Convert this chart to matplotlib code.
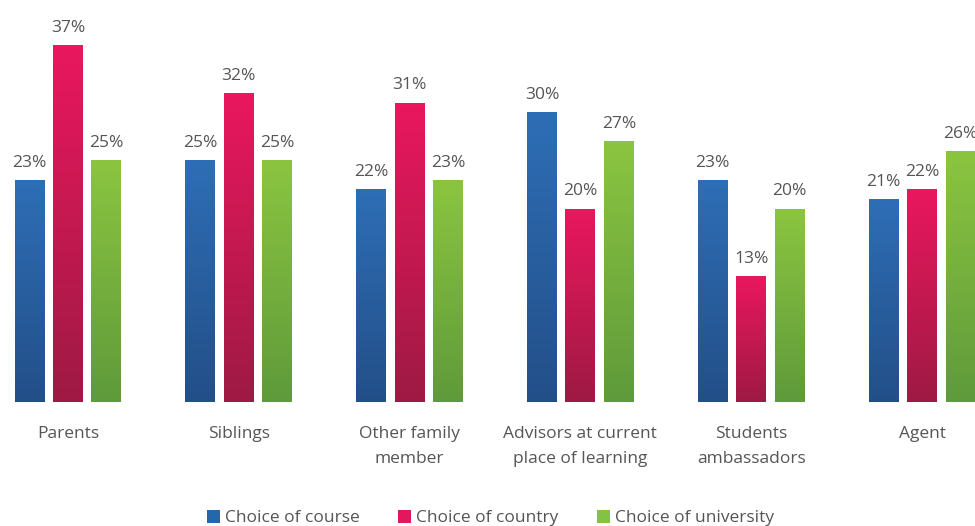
import numpy as np
import matplotlib.pyplot as plt
from matplotlib.colors import LinearSegmentedColormap
from matplotlib.patches import Patch

plt.rcParams['font.family'] = ['Open Sans', 'DejaVu Sans']

categories = ['Parents', 'Siblings', 'Other family\nmember', 'Advisors at current\nplace of learning',
              'Students\nambassadors', 'Agent']
series_names = ['Choice of course', 'Choice of country', 'Choice of university']
course = [23, 25, 22, 30, 23, 21]
country = [37, 32, 31, 20, 13, 22]
university = [25, 25, 23, 27, 20, 26]

# top colour, bottom colour for each series
grads = [('#2e6eb6', '#234f88'), ('#ea175e', '#9e1a44'), ('#8bc540', '#5f9a3b')]
legend_cols = ['#2468ab', '#e4175d', '#85c142']
text_col = '#555555'

fig = plt.figure(figsize=(9.75, 5.26), dpi=100)
ax = fig.add_axes([0, 1 - 402 / 526, 1, 402 / 526])

x = np.arange(len(categories))
width = 0.175
offset = 0.225
grad = np.linspace(1, 0, 256).reshape(-1, 1)

for k, vals in enumerate([course, country, university]):
    cmap = LinearSegmentedColormap.from_list('g%d' % k, [grads[k][1], grads[k][0]])
    xs = x + (k - 1) * offset
    bars = ax.bar(xs, vals, width, color='none', edgecolor='none')
    for b, v in zip(bars, vals):
        x0 = b.get_x()
        ax.imshow(grad, cmap=cmap, aspect='auto', extent=[x0, x0 + width, 0, v],
                  vmin=0, vmax=1, zorder=2)
        ax.annotate('%d%%' % v, (x0 + width / 2, v), xytext=(0, 7), textcoords='offset points',
                    ha='center', va='bottom', fontsize=12.5, color=text_col)

ax.set_xlim(-0.398, 5.31)
ax.set_ylim(0, 41.7)
ax.set_xticks(x)
ax.set_xticklabels(categories, fontsize=12.5, color=text_col, linespacing=1.75)
ax.tick_params(axis='x', length=0, pad=17)
ax.set_yticks([])
for s in ax.spines.values():
    s.set_visible(False)

handles = [Patch(facecolor=c, edgecolor='none') for c in legend_cols]
fig.legend(handles, series_names, loc='center', bbox_to_anchor=(0.503, 1 - 518 / 526), ncol=3,
           frameon=False, fontsize=12.5, handlelength=0.75, handleheight=0.75, handletextpad=0.3,
           columnspacing=2.2, labelcolor=text_col)

fig.savefig('out.png', dpi=100)
